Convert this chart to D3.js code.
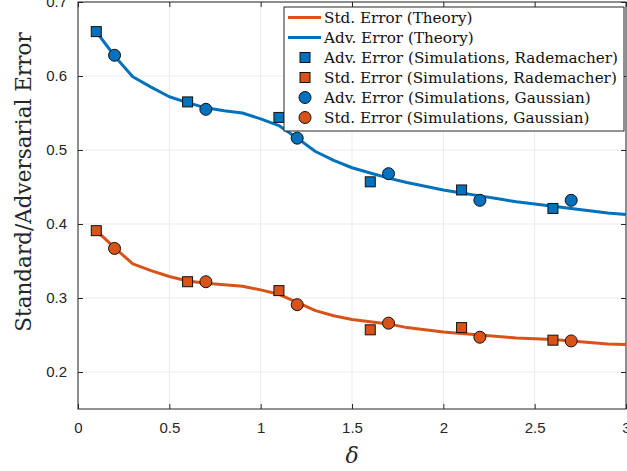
<!DOCTYPE html>
<html>
<head>
<meta charset="utf-8">
<script src="https://cdn.jsdelivr.net/npm/d3@7"></script>
<style>
  body { margin: 0; background: #fff; }
</style>
</head>
<body>
<div id="chart"></div>
<script>
// theory curves, sampled every 0.1 in delta
const deltaTheory = [0.1, 0.2, 0.3, 0.4, 0.5, 0.6, 0.7, 0.8, 0.9, 1.0,
  1.1, 1.2, 1.3, 1.4, 1.5, 1.6, 1.7, 1.8, 1.9, 2.0,
  2.1, 2.2, 2.3, 2.4, 2.5, 2.6, 2.7, 2.8, 2.9, 3.0];
const advTheory = [0.660, 0.627, 0.599, 0.585, 0.572, 0.564, 0.557, 0.553, 0.550, 0.542,
  0.533, 0.516, 0.498, 0.486, 0.476, 0.469, 0.462, 0.456, 0.451, 0.446,
  0.442, 0.438, 0.434, 0.430, 0.427, 0.424, 0.421, 0.418, 0.415, 0.413];
const stdTheory = [0.391, 0.368, 0.346, 0.337, 0.329, 0.323, 0.320, 0.318, 0.316, 0.311,
  0.305, 0.294, 0.283, 0.276, 0.271, 0.268, 0.265, 0.260, 0.257, 0.254,
  0.252, 0.250, 0.248, 0.246, 0.245, 0.244, 0.242, 0.240, 0.238, 0.237];

// simulations
const deltaRad = [0.1, 0.6, 1.1, 1.6, 2.1, 2.6];
const advRad = [0.660, 0.565, 0.544, 0.457, 0.446, 0.421];
const stdRad = [0.391, 0.322, 0.310, 0.257, 0.260, 0.243];
const deltaGauss = [0.2, 0.7, 1.2, 1.7, 2.2, 2.7];
const advGauss = [0.628, 0.555, 0.516, 0.468, 0.432, 0.432];
const stdGauss = [0.367, 0.322, 0.291, 0.266, 0.247, 0.242];

const xTicks = [0, 0.5, 1, 1.5, 2, 2.5, 3];
const yTicks = [0.2, 0.3, 0.4, 0.5, 0.6, 0.7];

const legendLabels = [
  "Std. Error (Theory)",
  "Adv. Error (Theory)",
  "Adv. Error (Simulations, Rademacher)",
  "Std. Error (Simulations, Rademacher)",
  "Adv. Error (Simulations, Gaussian)",
  "Std. Error (Simulations, Gaussian)"
];

const blue = "#0072BD", orange = "#D95319", axisCol = "#262626";

const margin = { top: 2, right: 1, bottom: 62, left: 78 },
  width = 627 - margin.left - margin.right,
  height = 471 - margin.top - margin.bottom;

const svg = d3.select("#chart")
  .append("svg")
  .attr("width", 627)
  .attr("height", 471)
  .append("g")
  .attr("transform", `translate(${margin.left},${margin.top})`);

const x = d3.scaleLinear().domain([0, 3]).range([0, width]);
const y = d3.scaleLinear().domain([0.15, 0.7]).range([height, 0]);

// grid
svg.append("g").selectAll("line").data(xTicks).enter().append("line")
  .attr("x1", d => x(d)).attr("x2", d => x(d))
  .attr("y1", 0).attr("y2", height)
  .attr("stroke", "#ebebeb").attr("stroke-width", 1);
svg.append("g").selectAll("line").data(yTicks).enter().append("line")
  .attr("x1", 0).attr("x2", width)
  .attr("y1", d => y(d)).attr("y2", d => y(d))
  .attr("stroke", "#ebebeb").attr("stroke-width", 1);

// axes (ticks pointing inward, box on)
function styleAxis(g) {
  g.select(".domain").remove();
  g.selectAll(".tick line").attr("stroke", axisCol);
  g.selectAll(".tick text")
    .attr("fill", axisCol)
    .style("font-family", "'Liberation Sans', Arial, sans-serif")
    .style("font-size", "15px");
}
svg.append("g")
  .attr("transform", `translate(0,${height})`)
  .call(d3.axisBottom(x).tickValues(xTicks).tickFormat(d3.format("")).tickSizeInner(-5).tickPadding(13))
  .call(styleAxis);
svg.append("g")
  .call(d3.axisTop(x).tickValues(xTicks).tickFormat("").tickSizeInner(-5))
  .call(styleAxis);
svg.append("g")
  .call(d3.axisLeft(y).tickValues(yTicks).tickFormat(d3.format(".1f")).tickSizeInner(-5).tickPadding(11))
  .call(styleAxis);
svg.append("g")
  .attr("transform", `translate(${width},0)`)
  .call(d3.axisRight(y).tickValues(yTicks).tickFormat("").tickSizeInner(-5))
  .call(styleAxis);

svg.append("rect")
  .attr("width", width).attr("height", height)
  .attr("fill", "none").attr("stroke", axisCol).attr("stroke-width", 1);

// theory lines
const line = d3.line().x(d => x(d[0])).y(d => y(d[1]));
svg.append("path")
  .datum(d3.zip(deltaTheory, stdTheory))
  .attr("fill", "none").attr("stroke", orange).attr("stroke-width", 3)
  .attr("stroke-linejoin", "round")
  .attr("d", line);
svg.append("path")
  .datum(d3.zip(deltaTheory, advTheory))
  .attr("fill", "none").attr("stroke", blue).attr("stroke-width", 3)
  .attr("stroke-linejoin", "round")
  .attr("d", line);

// markers
const sq = 10, rad = 6;
function squares(xs, ys, color) {
  svg.append("g").selectAll("rect").data(d3.zip(xs, ys)).enter().append("rect")
    .attr("x", d => x(d[0]) - sq / 2).attr("y", d => y(d[1]) - sq / 2)
    .attr("width", sq).attr("height", sq)
    .attr("fill", color).attr("stroke", "#111").attr("stroke-width", 1);
}
function circles(xs, ys, color) {
  svg.append("g").selectAll("circle").data(d3.zip(xs, ys)).enter().append("circle")
    .attr("cx", d => x(d[0])).attr("cy", d => y(d[1])).attr("r", rad)
    .attr("fill", color).attr("stroke", "#111").attr("stroke-width", 1);
}
squares(deltaRad, advRad, blue);
squares(deltaRad, stdRad, orange);
circles(deltaGauss, advGauss, blue);
circles(deltaGauss, stdGauss, orange);

// axis labels
svg.append("text")
  .attr("x", width / 2)
  .attr("y", height + 54)
  .attr("text-anchor", "middle")
  .style("font-family", "'DejaVu Serif', serif")
  .style("font-style", "italic")
  .style("font-size", "22px")
  .attr("fill", axisCol)
  .text("δ");
svg.append("text")
  .attr("transform", "rotate(-90)")
  .attr("x", -180)
  .attr("y", -47)
  .attr("text-anchor", "middle")
  .style("font-family", "'DejaVu Serif', serif")
  .style("font-size", "21.5px")
  .attr("fill", axisCol)
  .text("Standard/Adversarial Error");

// legend
const lx = 284 - margin.left, ly = 7 - margin.top;
const legend = svg.append("g").attr("transform", `translate(${lx},${ly})`);
legend.append("rect")
  .attr("width", 340).attr("height", 124)
  .attr("fill", "#fff").attr("stroke", axisCol).attr("stroke-width", 1);
const kinds = ["line", "line", "sq", "sq", "circ", "circ"];
const colors = [orange, blue, blue, orange, blue, orange];
const items = legend.selectAll(".item").data(legendLabels).enter().append("g")
  .attr("transform", (d, i) => `translate(0,${10.5 + i * 20})`);
items.each(function(d, i) {
  const g = d3.select(this);
  if (kinds[i] === "line") {
    g.append("line").attr("x1", 4).attr("x2", 37).attr("y1", 0).attr("y2", 0)
      .attr("stroke", colors[i]).attr("stroke-width", 3);
  } else if (kinds[i] === "sq") {
    g.append("rect").attr("x", 21 - sq / 2).attr("y", -sq / 2)
      .attr("width", sq).attr("height", sq)
      .attr("fill", colors[i]).attr("stroke", "#111").attr("stroke-width", 1);
  } else {
    g.append("circle").attr("cx", 21).attr("cy", 0).attr("r", rad)
      .attr("fill", colors[i]).attr("stroke", "#111").attr("stroke-width", 1);
  }
  g.append("text")
    .attr("x", 40).attr("y", 0).attr("dy", "0.35em")
    .style("font-family", "'DejaVu Serif', serif")
    .style("font-size", "15.2px")
    .attr("fill", "#111")
    .text(d);
});
</script>
</body>
</html>
